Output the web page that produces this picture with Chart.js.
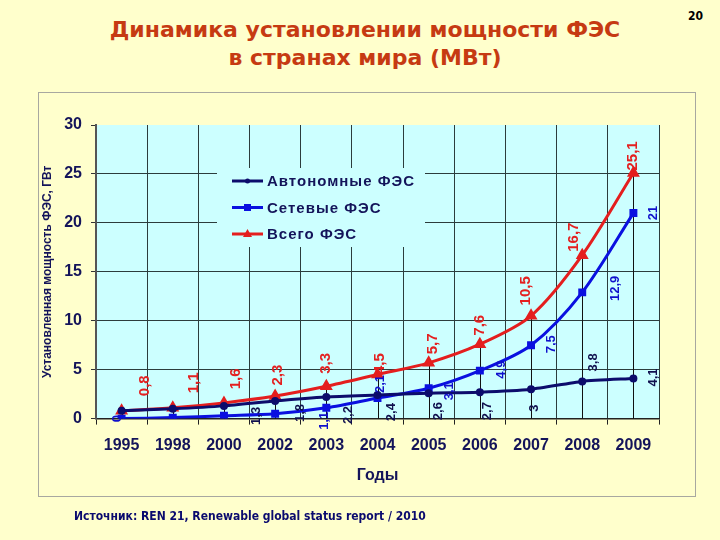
<!DOCTYPE html>
<html>
<head>
<meta charset="utf-8">
<script src="https://cdn.jsdelivr.net/npm/chart.js@4.4.1/dist/chart.umd.min.js"></script>
<style>
  html, body { margin: 0; padding: 0; }
  body { width: 720px; height: 540px; background: #ffffcc; position: relative; overflow: hidden; }
  #frame { position: absolute; left: 38px; top: 92px; width: 656px; height: 403px; border: 1px solid #a8a8a0; }
  #wrap { position: absolute; left: 0; top: 0; width: 720px; height: 540px; }
  #title { position: absolute; left: 0; top: 16px; width: 730px; text-align: center;
           font: bold 22px "DejaVu Sans", sans-serif; line-height: 28px; color: #c63a12; }
  #page { position: absolute; left: 688px; top: 9px; font: bold 12px "DejaVu Sans Condensed", "DejaVu Sans", sans-serif; color: #000; }
  #source { position: absolute; left: 74px; top: 509px; font: bold 12px "DejaVu Sans Condensed", "DejaVu Sans", sans-serif; color: #0a0a6e; }
</style>
</head>
<body>
<div id="frame"></div>
<div id="title">Динамика установлении мощности ФЭС<br>в странах мира (МВт)</div>
<div id="page">20</div>
<div id="wrap"><canvas id="c" width="720" height="540"></canvas></div>
<div id="source">Источник: REN 21, Renewable global status report / 2010</div>
<script>
// ---- data ----
const years = ['1995', '1998', '2000', '2002', '2003', '2004', '2005', '2006', '2007', '2008', '2009'];
const offGrid = [0.8, 1.0, 1.3, 1.8, 2.2, 2.4, 2.6, 2.7, 3.0, 3.8, 4.1];
const gridConnected = [0, 0.1, 0.3, 0.5, 1.1, 2.1, 3.1, 4.9, 7.5, 12.9, 21];
const totalPV = [0.8, 1.1, 1.6, 2.3, 3.3, 4.5, 5.7, 7.6, 10.5, 16.7, 25.1];
const seriesNames = ['Автономные ФЭС', 'Сетевые ФЭС', 'Всего ФЭС'];
const yTickValues = [0, 5, 10, 15, 20, 25, 30];
const xAxisTitle = 'Годы';
const yAxisTitle = 'Установленная мощность ФЭС, ГВт';

// ---- styles ----
const NAVY = '#0c0c6c', BLUE = '#0a10e0', RED = '#e41e1e';
const TXT = '#14145a';
const GRID = '#2c3c3c';
const FONT = '"Liberation Sans", Arial, sans-serif';

// label placement (pixel offsets relative to each point; null = no label)
const labelPlacement = [
  { color: '#10104e', size: 13, off: [null, null, [32, 10], [25, 12], [22, 18], [14, 17], [10, 18], [8, 19], [3, 19], [11, -19], [20, -1]] },
  { color: '#1010cc', size: 13, off: [[-4, 0], null, null, null, [-2, 13], [3, -14], [21, 3], [22, -1], [20, -1], [33, -4], [20, 0]] },
  { color: '#e42020', size: 15, off: [[23, -25], [21, -25], [12, -24], [3, -21], [0, -23], [2, -11], [4, -19], [0, -19], [-5, -25], [-8, -18], [-1, -17]] }
];

const fmt = v => String(v).replace('.', ',');

const plotBg = {
  id: 'plotBg',
  beforeDraw(chart) {
    const { ctx, chartArea: a } = chart;
    ctx.save();
    ctx.fillStyle = '#ccffff';
    ctx.fillRect(a.left, a.top, a.right - a.left, a.bottom - a.top);
    ctx.restore();
  }
};

const dropAndLegend = {
  id: 'dropAndLegend',
  beforeDatasetsDraw(chart) {
    const { ctx, chartArea: a } = chart;
    ctx.save();
    // drop lines from the top series to the axis
    const meta = chart.getDatasetMeta(2);
    ctx.strokeStyle = '#111';
    ctx.lineWidth = 1;
    meta.data.forEach(p => {
      const x = Math.round(p.x) + 0.5;
      ctx.beginPath();
      ctx.moveTo(x, p.y);
      ctx.lineTo(x, a.bottom);
      ctx.stroke();
    });
    // legend box
    const lx = a.left + 121, ly = a.top + 43, lw = 208, lh = 79;
    ctx.fillStyle = '#ccffff';
    ctx.fillRect(lx, ly, lw, lh);
    chart.data.datasets.forEach((ds, i) => {
      const y = ly + 13 + i * 26.5;
      ctx.strokeStyle = ds.borderColor;
      ctx.lineWidth = 3;
      ctx.beginPath();
      ctx.moveTo(lx + 15, y);
      ctx.lineTo(lx + 46, y);
      ctx.stroke();
      ctx.fillStyle = ds.borderColor;
      const cx = lx + 30.5;
      if (ds.pointStyle === 'rect') {
        ctx.fillRect(cx - 3.5, y - 3.5, 7, 7);
      } else if (ds.pointStyle === 'triangle') {
        ctx.beginPath();
        ctx.moveTo(cx, y - 5); ctx.lineTo(cx + 4.5, y + 3); ctx.lineTo(cx - 4.5, y + 3);
        ctx.closePath(); ctx.fill();
      } else {
        ctx.beginPath(); ctx.arc(cx, y, 2.5, 0, Math.PI * 2); ctx.fill();
      }
      ctx.fillStyle = TXT;
      ctx.font = 'bold 15px ' + FONT;
      ctx.textBaseline = 'middle';
      ctx.textAlign = 'left';
      try { ctx.letterSpacing = '1px'; } catch (e) {}
      ctx.fillText(ds.label, lx + 50, y + 1);
      try { ctx.letterSpacing = '0px'; } catch (e) {}
    });
    ctx.restore();
  },
  afterDatasetsDraw(chart) {
    const { ctx } = chart;
    ctx.save();
    chart.data.datasets.forEach((ds, di) => {
      const cfg = labelPlacement[di];
      const meta = chart.getDatasetMeta(di);
      meta.data.forEach((p, i) => {
        const o = cfg.off[i];
        if (!o) return;
        ctx.save();
        ctx.translate(p.x + o[0], p.y + o[1]);
        ctx.rotate(-Math.PI / 2);
        ctx.fillStyle = cfg.color;
        ctx.font = 'bold ' + cfg.size + 'px ' + FONT;
        ctx.textAlign = 'center';
        ctx.textBaseline = 'middle';
        ctx.fillText(fmt(ds.data[i]), 0, 0);
        ctx.restore();
      });
    });
    ctx.restore();
  }
};

new Chart(document.getElementById('c'), {
  type: 'line',
  data: {
    labels: years,
    datasets: [
      { label: seriesNames[0], data: offGrid, borderColor: NAVY, backgroundColor: NAVY, borderWidth: 3,
        pointStyle: 'circle', pointRadius: 2.5, tension: 0.2 },
      { label: seriesNames[1], data: gridConnected, borderColor: BLUE, backgroundColor: BLUE, borderWidth: 3,
        pointStyle: 'rect', pointRadius: 3.5, tension: 0.3 },
      { label: seriesNames[2], data: totalPV, borderColor: RED, backgroundColor: RED, borderWidth: 3,
        pointStyle: 'triangle', pointRadius: 4.5, tension: 0.3 }
    ]
  },
  options: {
    responsive: false,
    animation: false,
    layout: { padding: { top: 125, left: 36, right: 61, bottom: 51 } },
    plugins: { legend: { display: false }, title: { display: false }, tooltip: { enabled: false } },
    scales: {
      x: {
        type: 'category',
        offset: true,
        grid: { offset: true, color: GRID, lineWidth: 1, tickLength: 6, tickColor: '#222' },
        border: { color: '#222', width: 1.5 },
        ticks: { color: TXT, font: { family: FONT, size: 16, weight: 'bold' }, padding: 11, maxRotation: 0, autoSkip: false },
        title: { display: true, text: xAxisTitle, color: TXT, font: { family: FONT, size: 16, weight: 'bold' }, padding: { top: 0, bottom: 4 } }
      },
      y: {
        min: 0, max: 30,
        afterBuildTicks(scale) { scale.ticks = yTickValues.map(v => ({ value: v })); },
        afterFit(scale) { scale.width = 60; },
        grid: { color: ctx => (ctx.tick && ctx.tick.value === 30) ? 'rgba(0,0,0,0)' : GRID, tickColor: '#333', tickLength: 5, lineWidth: 1 },
        border: { color: '#555', width: 2 },
        ticks: { color: TXT, font: { family: FONT, size: 16, weight: 'bold' }, padding: 9 },
        title: { display: true, text: yAxisTitle, color: TXT, font: { family: FONT, size: 12, weight: 'bold' }, padding: 4 }
      }
    }
  },
  plugins: [plotBg, dropAndLegend]
});
</script>
</body>
</html>
